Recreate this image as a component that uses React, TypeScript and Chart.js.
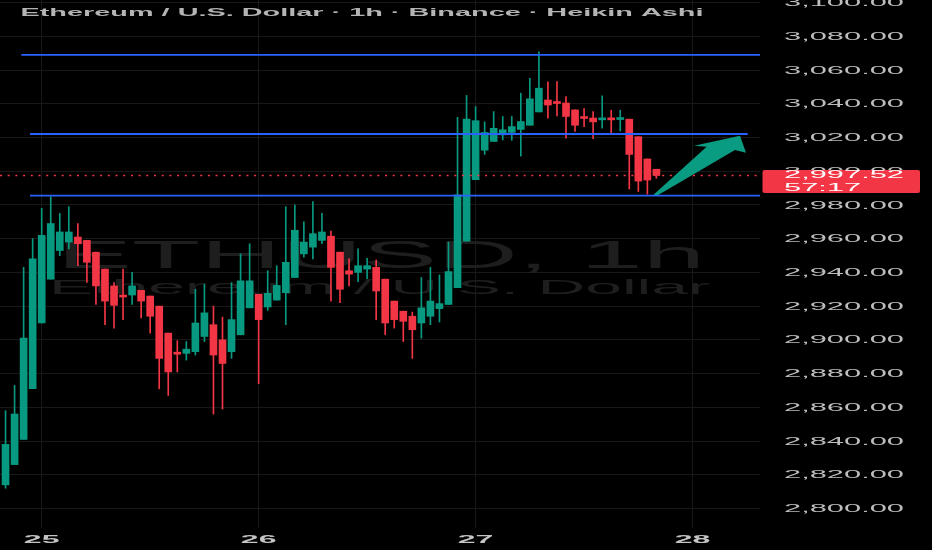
import { useEffect, useRef } from 'react';
import { Chart, registerables } from 'chart.js';

Chart.register(...registerables);

// ---- data ----
const titleText = 'Ethereum / U.S. Dollar · 1h · Binance · Heikin Ashi';
const watermarkSymbol = 'ETHUSD, 1h';
const watermarkName = 'Ethereum / U.S. Dollar';
const dayLabels = ['25', '26', '27', '28'];
const dayIndex = [4, 28, 52, 76];
const priceTicks = [2800, 2820, 2840, 2860, 2880, 2900, 2920, 2940, 2960, 2980, 3000, 3020, 3040, 3060, 3080, 3100];

const opens = [
  2814, 2826, 2841, 2871, 2910, 2936, 2953, 2958, 2961, 2959,
  2952, 2942, 2932, 2926.4, 2926.6, 2929.4, 2926, 2920, 2904, 2892.5,
  2892, 2893, 2902, 2909, 2900, 2893, 2903, 2919, 2927, 2919.5,
  2923.6, 2928, 2937, 2951, 2955, 2959, 2961.5, 2952, 2941, 2940,
  2942, 2943, 2936, 2923, 2917, 2914, 2910, 2914, 2918.5, 2921,
  2931, 2958.6, 2995, 3012.5, 3017.7, 3021.6, 3023.1, 3024.8, 3027.3, 3035.2,
  3042.3, 3040.8, 3040.5, 3036.4, 3031.9, 3031.6, 3030.5, 3031, 3030.7, 3030.9,
  3020.5, 3007.3, 3001.2,
];
const highs = [
  2858, 2873, 2943, 2960, 2978, 2985, 2975, 2979, 2969, 2959,
  2952, 2942, 2934, 2942, 2940, 2929.4, 2926, 2920, 2904, 2899.5,
  2899, 2930, 2933, 2920, 2913.5, 2934, 2951, 2957, 2927, 2941,
  2944, 2979, 2980, 2970, 2982, 2975, 2964.6, 2952, 2948, 2954,
  2948.4, 2947.4, 2936, 2923, 2917, 2916.5, 2937, 2943, 2938.5, 2958,
  3032, 3045, 3038.4, 3029.3, 3035.4, 3032.5, 3032.5, 3046.3, 3055.2, 3070.8,
  3053, 3053.2, 3044.3, 3036.4, 3037.2, 3035.4, 3044.7, 3036.2, 3036.2, 3030.9,
  3020.5, 3007.3, 3001.2,
];
const lows = [
  2812, 2826, 2841, 2871, 2910, 2936, 2950, 2954, 2944, 2934,
  2921, 2909, 2907, 2912, 2921, 2913, 2904, 2871, 2867, 2881,
  2888, 2891, 2899, 2856, 2859, 2889, 2903, 2919, 2874, 2917.5,
  2923.6, 2909, 2937, 2949, 2948, 2957, 2923, 2922, 2932, 2934.5,
  2936.3, 2912, 2903, 2907, 2899, 2889, 2901, 2909, 2910.6, 2921,
  2931, 2958.6, 2995, 3010, 3017.7, 3018.6, 3018.4, 3009, 3027.3, 3035.2,
  3031.5, 3032.8, 3019.6, 3023.7, 3026.5, 3019.4, 3025.5, 3022.7, 3023.9, 2989.5,
  2988, 2986.4, 2995.8,
];
const closes = [
  2838, 2856, 2901, 2948, 2962, 2969, 2964, 2964, 2957, 2946,
  2932, 2923, 2920.5, 2925.4, 2932, 2923, 2914, 2889, 2881, 2891.5,
  2894.5, 2910, 2916, 2891, 2886, 2912, 2935, 2935, 2912, 2927.6,
  2932.3, 2946, 2965, 2958, 2963, 2964, 2943, 2930, 2939, 2944,
  2944, 2929, 2910, 2912, 2911, 2906, 2919, 2923, 2921.5, 2940.5,
  2986, 3031, 3030, 3023, 3025.5, 3024.6, 3026.5, 3029.5, 3043, 3049.3,
  3039.3, 3040.2, 3032.5, 3027.3, 3031.3, 3029.3, 3031.5, 3030.5, 3031.2, 3010,
  2994.2, 2994.8, 2997.5,
];

const levelValues = [3069.0, 3022.1, 2985.5];
const levelFrom = [1.74, 2.71, 2.71];
const levelTo = [83.46, 82.1, 83.46];
const lastPrice = 2997.52;
const countdownText = '57:17';
const arrowIdx = [71.65, 77.56, 76.16, 81.25, 81.91, 80.69, 72.2];
const arrowVal = [2985.9, 3014.6, 3015.1, 3021.1, 3011.0, 3012.6, 2985.9];

// ---- styles ----
const UP = '#089981';
const DOWN = '#f23645';
const BLUE = '#2962ff';
const GRID = '#181818';
const FONT = '"Liberation Sans", Arial, sans-serif';

const fmt = (v: number) =>
  v.toLocaleString('en-US', { minimumFractionDigits: 2, maximumFractionDigits: 2 });

function stretchText(
  ctx: CanvasRenderingContext2D,
  text: string,
  x: number,
  y: number,
  sx: number,
  align: 'left' | 'right' | 'center'
) {
  const w = ctx.measureText(text).width * sx;
  let left = x;
  if (align === 'right') left = x - w;
  if (align === 'center') left = x - w / 2;
  ctx.save();
  ctx.translate(left, y);
  ctx.scale(sx, 1);
  ctx.textAlign = 'left';
  ctx.textBaseline = 'alphabetic';
  ctx.fillText(text, 0, 0);
  ctx.restore();
}

const overlayPlugin = {
  id: 'overlay',
  beforeDraw(chart: any) {
    const { ctx, width, height } = chart;
    ctx.save();
    ctx.fillStyle = '#000';
    ctx.fillRect(0, 0, width, height);
    ctx.restore();
  },
  beforeDatasetsDraw(chart: any) {
    const ctx = chart.ctx as CanvasRenderingContext2D;
    ctx.save();
    ctx.fillStyle = '#1e1e1e';
    ctx.font = `38px ${FONT}`;
    let sx = 648 / ctx.measureText(watermarkSymbol).width;
    stretchText(ctx, watermarkSymbol, 57, 268, sx, 'left');
    ctx.font = `21px ${FONT}`;
    sx = 661 / ctx.measureText(watermarkName).width;
    stretchText(ctx, watermarkName, 49, 293.5, sx, 'left');
    ctx.restore();
  },
  afterDatasetsDraw(chart: any) {
    const ctx = chart.ctx as CanvasRenderingContext2D;
    const xs = chart.scales.x;
    const ys = chart.scales.y;
    const area = chart.chartArea;
    ctx.save();
    // horizontal levels
    ctx.strokeStyle = BLUE;
    ctx.lineWidth = 1.8;
    levelValues.forEach((v, k) => {
      const y = ys.getPixelForValue(v);
      ctx.beginPath();
      ctx.moveTo(xs.getPixelForValue(levelFrom[k]), y);
      ctx.lineTo(xs.getPixelForValue(levelTo[k]), y);
      ctx.stroke();
    });
    // last price dotted line
    const py = ys.getPixelForValue(lastPrice);
    ctx.strokeStyle = DOWN;
    ctx.lineWidth = 1.4;
    ctx.setLineDash([2, 5.7]);
    ctx.beginPath();
    ctx.moveTo(area.left, py);
    ctx.lineTo(area.right, py);
    ctx.stroke();
    ctx.setLineDash([]);
    // arrow
    ctx.fillStyle = '#0a9c83';
    ctx.beginPath();
    arrowIdx.forEach((ix, k) => {
      const px = xs.getPixelForValue(ix);
      const pyy = ys.getPixelForValue(arrowVal[k]);
      if (k === 0) ctx.moveTo(px, pyy);
      else ctx.lineTo(px, pyy);
    });
    ctx.closePath();
    ctx.fill();
    ctx.restore();
  },
  afterDraw(chart: any) {
    const ctx = chart.ctx as CanvasRenderingContext2D;
    const xs = chart.scales.x;
    const ys = chart.scales.y;
    ctx.save();
    // title
    ctx.fillStyle = '#b4b4b4';
    ctx.font = `bold 10px ${FONT}`;
    const tsx = 683 / ctx.measureText(titleText).width;
    stretchText(ctx, titleText, 20.5, 16.3, tsx, 'left');
    // y tick labels
    ctx.font = `10px ${FONT}`;
    ctx.fillStyle = '#bdbdbd';
    const ysx = 120 / ctx.measureText('3,080.00').width;
    ys.ticks.forEach((t: any) => {
      const y = ys.getPixelForValue(t.value);
      stretchText(ctx, fmt(t.value), 904, y + 3.6, ysx, 'right');
    });
    // x tick labels
    ctx.font = `bold 10px ${FONT}`;
    ctx.fillStyle = '#c4c4c4';
    const xsx = 35.7 / ctx.measureText('25').width;
    xs.ticks.forEach((t: any, k: number) => {
      const x = xs.getPixelForValue(t.value);
      stretchText(ctx, dayLabels[k] ?? '', x, 543.3, xsx, 'center');
    });
    // last price box
    const py = ys.getPixelForValue(lastPrice);
    ctx.fillStyle = DOWN;
    ctx.beginPath();
    (ctx as any).roundRect(762.5, py - 5.5, 157.5, 23, 2);
    ctx.fill();
    ctx.fillStyle = '#ffffff';
    ctx.font = `10px ${FONT}`;
    stretchText(ctx, fmt(lastPrice), 784, py + 3, ysx, 'left');
    stretchText(ctx, countdownText, 784, py + 15.3, ysx, 'left');
    ctx.restore();
  },
};

export default function App() {
  const ref = useRef<HTMLCanvasElement | null>(null);
  useEffect(() => {
    const canvas = ref.current;
    if (!canvas) return;
    const idx = opens.map((_, i) => i);
    const colors = idx.map((i) => (closes[i] >= opens[i] ? UP : DOWN));
    const chart = new Chart(canvas, {
      type: 'bar',
      data: {
        datasets: [
          {
            label: 'wick',
            data: idx.map((i) => ({ x: i, y: [lows[i], highs[i]] })) as any,
            backgroundColor: colors,
            barThickness: 1,
            grouped: false,
            borderWidth: 0,
          },
          {
            label: 'body',
            data: idx.map((i) => ({ x: i, y: [opens[i], closes[i]] })) as any,
            backgroundColor: colors,
            barThickness: 7,
            grouped: false,
            borderWidth: 0,
            minBarLength: 2,
          },
        ],
      },
      options: {
        animation: false,
        responsive: false,
        maintainAspectRatio: false,
        layout: { padding: 0 },
        plugins: { legend: { display: false }, tooltip: { enabled: false } },
        scales: {
          x: {
            type: 'linear',
            min: -0.613,
            max: 83.46,
            offset: false,
            grid: { color: GRID, drawTicks: false, offset: false, lineWidth: 1 },
            border: { display: false },
            ticks: { display: false },
            afterBuildTicks: (s: any) => {
              s.ticks = dayIndex.map((v) => ({ value: v }));
            },
            afterFit: (s: any) => {
              s.height = 22;
            },
          },
          y: {
            type: 'linear',
            position: 'right',
            min: 2788.4,
            max: 3101.6,
            grid: { color: GRID, drawTicks: false, lineWidth: 1 },
            border: { display: false },
            ticks: { display: false },
            afterBuildTicks: (s: any) => {
              s.ticks = priceTicks.map((v) => ({ value: v }));
            },
            afterFit: (s: any) => {
              s.width = 172;
            },
          },
        },
      },
      plugins: [overlayPlugin],
    });
    return () => chart.destroy();
  }, []);

  return (
    <div style={{ position: 'fixed', left: 0, top: 0, width: 932, height: 550, background: '#000' }}>
      <canvas ref={ref} width={932} height={550} style={{ width: '932px', height: '550px', display: 'block' }} />
    </div>
  );
}
